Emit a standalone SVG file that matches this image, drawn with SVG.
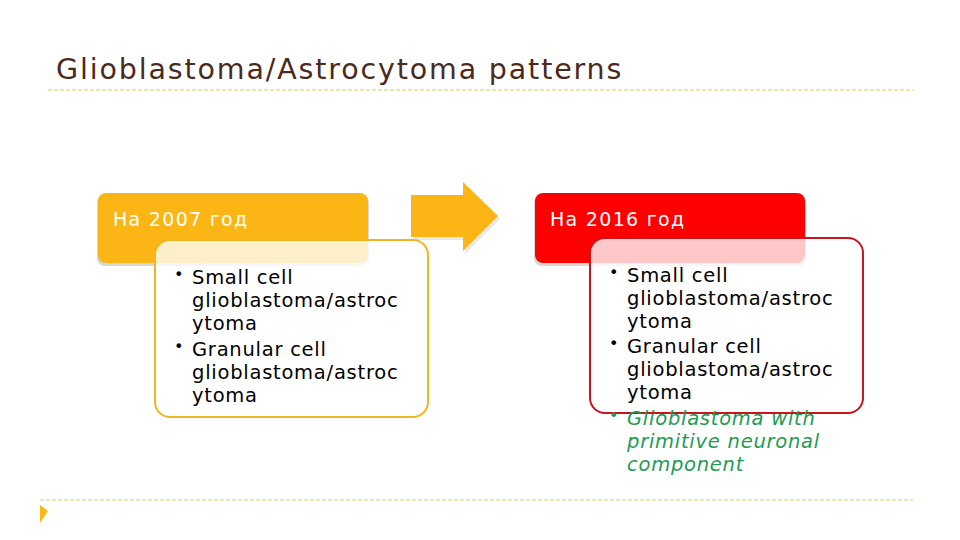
<svg xmlns="http://www.w3.org/2000/svg" width="960" height="540" viewBox="0 0 960 540">
<style>
.dash{stroke:#D6C774;stroke-width:1;stroke-dasharray:4 2;fill:none}
.title{font-family:"DejaVu Sans",sans-serif;font-size:28.5px;fill:#4A2A1E;letter-spacing:1.85px}
.hdr{font-family:"DejaVu Sans",sans-serif;font-size:19px;fill:#FFFFFF;letter-spacing:1.3px}
.body{font-family:"DejaVu Sans",sans-serif;font-size:19.5px;fill:#000000;letter-spacing:0.75px}
.bul{font-size:16px}
.green{fill:#1E9B52;font-style:italic}
.shadow{fill:#BDBDBD;opacity:0.6}
.card{fill:#FFFFFF;fill-opacity:0.78;stroke-width:2}
</style>
<rect width="960" height="540" fill="#FFFFFF"/>
<text class="title" x="56" y="79">Glioblastoma/Astrocytoma patterns</text>
<line class="dash" x1="48" y1="90" x2="913" y2="90"/>
<line class="dash" x1="40" y1="500" x2="913" y2="500"/>
<polygon points="40,505 48,511 40,523" fill="#FBB615"/>

<g id="connectors">
<polygon points="413,198 465,198 465,185 500,219 465,254 465,240 413,240" fill="#D9D9D9" opacity="0.6"/>
<polygon points="411,195 463,195 463,182 498,216 463,251 463,237 411,237" fill="#FBB615"/>
</g>

<g id="header2007">
<rect class="shadow" x="97" y="195" width="272" height="71" rx="8"/>
<rect x="98" y="193" width="270" height="70" rx="8" fill="#FBB615"/>
<text class="hdr" x="113" y="226">На 2007 год</text>
</g>

<g id="list2007">
<rect class="card" x="155" y="240" width="273" height="177" rx="15" stroke="#EDB623"/>
<text class="body">
<tspan class="bul" x="174" y="280">•</tspan><tspan x="192" y="284">Small cell</tspan>
<tspan x="192" y="307">glioblastoma/astroc</tspan>
<tspan x="192" y="330">ytoma</tspan>
<tspan class="bul" x="174" y="352">•</tspan><tspan x="192" y="356">Granular cell</tspan>
<tspan x="192" y="379">glioblastoma/astroc</tspan>
<tspan x="192" y="402">ytoma</tspan>
</text>
</g>

<g id="header2016">
<rect class="shadow" x="534" y="195" width="272" height="71" rx="8"/>
<rect x="535" y="193" width="270" height="70" rx="8" fill="#FF0000"/>
<text class="hdr" x="550" y="226">На 2016 год</text>
</g>

<g id="list2016">
<rect class="card" x="590" y="238" width="273" height="175" rx="15" stroke="#C8141E"/>
<text class="body">
<tspan class="bul" x="609" y="278">•</tspan><tspan x="627" y="282">Small cell</tspan>
<tspan x="627" y="305">glioblastoma/astroc</tspan>
<tspan x="627" y="328">ytoma</tspan>
<tspan class="bul" x="609" y="349">•</tspan><tspan x="627" y="353">Granular cell</tspan>
<tspan x="627" y="376">glioblastoma/astroc</tspan>
<tspan x="627" y="399">ytoma</tspan>
</text>
<text class="body green">
<tspan class="bul" x="609" y="421" font-style="normal">•</tspan><tspan x="627" y="425">Glioblastoma with</tspan>
<tspan x="627" y="448">primitive neuronal</tspan>
<tspan x="627" y="471">component</tspan>
</text>
</g>
</svg>
